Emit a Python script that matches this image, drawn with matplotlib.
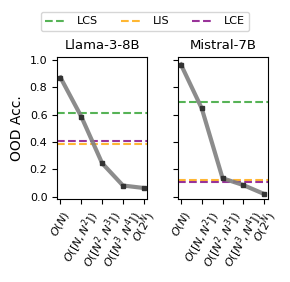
import numpy as np
import matplotlib
matplotlib.use("Agg")
import matplotlib.pyplot as plt

# ============ Données ============
complexity = [r"$O(N)$", r"$O([N, N^2])$", r"$O([N^2, N^3])$", r"$O([N^3, N^4])$", r"$O(2^N)$"]
models = ["Llama-3-8B", "Mistral-7B"]

llama_acc = [0.87, 0.585, 0.245, 0.082, 0.064]
mistral_acc = [0.965, 0.645, 0.135, 0.085, 0.02]

# baselines : LCS, LIS, LCE
llama_base = [0.61, 0.388, 0.41]
mistral_base = [0.695, 0.12, 0.11]

base_names = ["LCS", "LIS", "LCE"]
base_colors = ["tab:green", "orange", "purple"]

# ============ Figure ============
fig, axes = plt.subplots(1, 2, figsize=(2.9, 2.82), dpi=100, sharey=True)
fig.subplots_adjust(left=0.197, right=0.924, bottom=0.294, top=0.798, wspace=0.333)

x = np.arange(len(complexity))
for ax, name, acc, base in zip(axes, models, [llama_acc, mistral_acc], [llama_base, mistral_base]):
    for val, lab, col in zip(base, base_names, base_colors):
        ax.axhline(val, color=col, linestyle="--", linewidth=1.5, alpha=0.8, label=lab, zorder=1)
    ax.plot(x, acc, color="gray", linewidth=3, alpha=0.9, zorder=2)
    ax.plot(x, acc, "s", color="#333333", markersize=2.5, zorder=3)
    ax.set_title(name, fontsize=9.5)
    ax.set_xticks(x)
    ax.set_xticklabels(complexity, rotation=60, fontsize=8)
    ax.set_xlim(-0.16, 4.18)
    ax.set_ylim(-0.017, 1.02)
    ax.set_yticks([0.0, 0.2, 0.4, 0.6, 0.8, 1.0])
    ax.tick_params(axis="y", labelsize=8)

axes[0].set_ylabel("OOD Acc.", fontsize=10)

handles, labels = axes[0].get_legend_handles_labels()
fig.legend(handles, labels, loc="center", bbox_to_anchor=(0.5, 0.924), ncol=3,
           fontsize=8, handlelength=2, handletextpad=0.9, columnspacing=2.0, borderpad=0.4)

plt.savefig("out.png", dpi=100)
plt.close()
